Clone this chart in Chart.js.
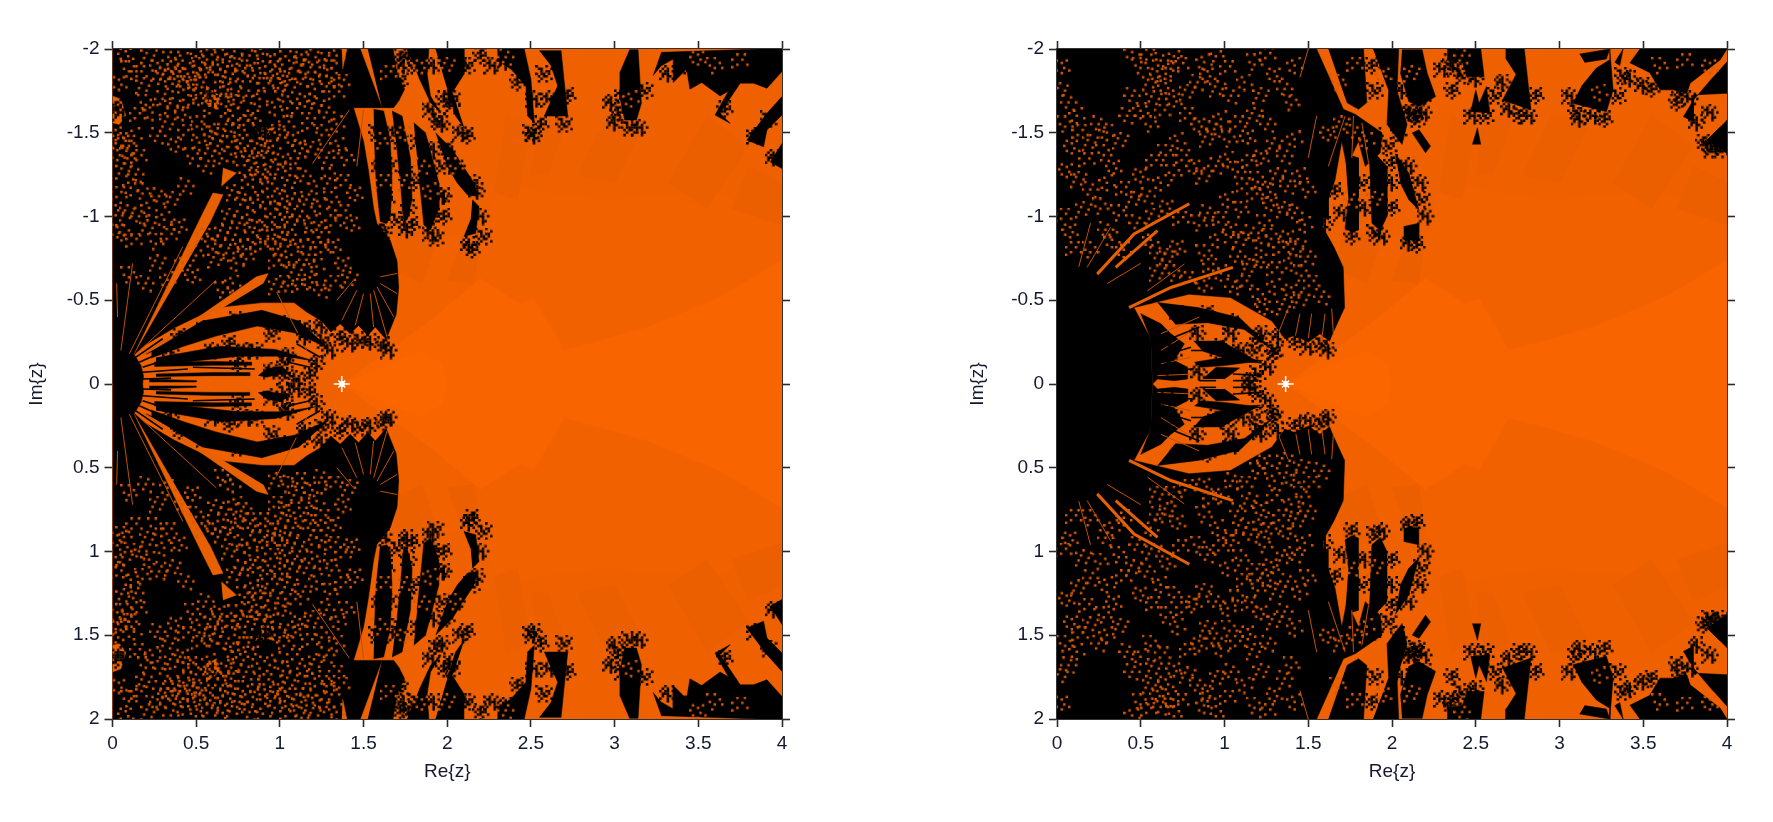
<!DOCTYPE html>
<html><head><meta charset="utf-8">
<style>html,body{margin:0;padding:0;background:#fff;width:1773px;height:822px;overflow:hidden}
#wa,#wb{position:absolute;top:0;height:822px}
#wa{left:0;width:830px}#wb{left:900px;width:873px}</style>
<script src="https://cdn.jsdelivr.net/npm/chart.js@4"></script></head>
<body><div id="wa"><canvas id="ca"></canvas></div><div id="wb"><canvas id="cb"></canvas></div>
<script>
const xTitle = 'Re{z}', yTitle = 'Im{z}';
const starLeft = [1.37, 0], starRight = [1.365, 0];

const toneBase = [[0,0],[0,2],[4,2],[4,0]];
const toneMid = [[1.37,0],[1.2,.3],[1.4,.55],[1.75,.95],[2.2,.85],[2.3,1.2],[2.9,1.1],[3.6,1.15],[4,1.0],[4,0]];
const toneBright = [[1.37,0],[1.65,.2],[1.9,.38],[2.2,.63],[2.43,.48],[2.52,.51],[2.7,.2],[3.2,.34],[3.63,.52],[4,.74],[4,0]];
const toneCore = [[1.37,0],[1.6,.1],[1.85,.2],[1.97,.12],[2.0,0]];
const toneBeams = [
 [[2.35,1.6],[2.5,1.55],[2.42,1.1],[2.28,1.15]],
 [[2.55,1.6],[2.72,1.58],[2.6,1.25],[2.5,1.25]],
 [[2.95,1.6],[3.18,1.56],[3.0,1.2],[2.78,1.25]],
 [[3.55,1.6],[3.8,1.42],[3.55,1.05],[3.32,1.2]],
 [[2.1,.9],[2.2,.88],[2.16,.6],[2.0,.62]],
 [[1.7,.95],[1.95,.9],[1.85,.6],[1.68,.68]],
 [[3.8,1.3],[4,1.2],[4,.95],[3.7,1.05]]
];

/* ---------- left panel ---------- */
const leftMass = [[0,2],[1.385,2],[1.48,2],[1.61,1.65],[1.44,1.65],[1.5,1.45],[1.53,1.27],[1.56,1.05],[1.58,.956],[1.66,.856],[1.70,.736],[1.71,.576],[1.695,.416],[1.635,.266],[1.57,.34],[1.525,.29],[1.47,.35],[1.42,.3],[1.36,.36],[1.305,.31],[1.25,.376],[1.16,.43],[1.085,.486],[.893,.486],[.618,.456],[.37,.336],[.2,.236],[.13,.175],[.17,.11],[.185,.05],[.18,0],[0,0]];
const leftRays = [
 [[1.525,2],[1.676,2],[1.70,1.85],[1.745,1.76],[1.71,1.69],[1.68,1.65],[1.61,1.65]],
 [[1.76,2],[1.89,2],[1.88,1.85],[1.90,1.72],[1.96,1.62],[1.9,1.68],[1.83,1.83]],
 [[1.93,2],[2.1,2],[2.1,1.85],[2.03,1.74],[2.1,1.53],[2.05,1.6],[2.0,1.76]],
 [[2.3,2],[2.46,2],[2.5,1.82],[2.52,1.56],[2.48,1.6],[2.47,1.78],[2.38,1.88],[2.3,1.93]],
 [[2.55,1.99],[2.68,1.99],[2.72,1.6],[2.58,1.6],[2.66,1.78],[2.62,1.9]],
 [[3.03,1.856],[3.09,1.996],[3.14,1.996],[3.16,1.676],[3.13,1.576],[3.06,1.576],[3.03,1.716]],
 [[3.23,1.84],[3.28,1.98],[3.87,2],[3.78,1.86],[3.7,1.76],[3.63,1.72],[3.52,1.8],[3.45,1.76],[3.43,1.88],[3.35,1.8],[3.35,1.94],[3.28,1.9]],
 [[3.87,2],[4,2],[4,1.866],[3.91,1.766],[3.83,1.796],[3.75,1.796],[3.63,1.616],[3.69,1.556],[3.6,1.606],[3.65,1.696],[3.72,1.816]],
 [[4,1.716],[3.91,1.616],[3.79,1.456],[3.89,1.416],[3.91,1.516],[4,1.606]],
 [[4,1.436],[3.93,1.326],[4,1.286]]
];
const leftDome = [
 [[1.56,1.64],[1.62,1.63],[1.66,1.45],[1.67,1.2],[1.66,1.0],[1.64,.96],[1.60,.97],[1.575,1.2],[1.565,1.45]],
 [[1.67,1.63],[1.73,1.6],[1.78,1.35],[1.79,1.1],[1.76,.98],[1.74,.97],[1.72,1.2],[1.70,1.4]],
 [[1.80,1.56],[1.87,1.5],[1.95,1.2],[1.95,1.05],[1.90,.92],[1.86,.95],[1.84,1.15],[1.82,1.35]],
 [[1.93,1.5],[2.03,1.4],[2.16,1.2],[2.18,1.12],[2.12,1.13],[2.06,1.2],[2.0,1.3]],
 [[2.15,1.1],[2.19,1.06],[2.17,.9],[2.1,.88],[2.14,.98]]
];
const leftFan = [
 [[.233,.196],[.536,.376],[.893,.44],[1.113,.376],[1.29,.216],[1.085,.306],[.865,.346],[.618,.286],[.426,.226],[.233,.156]],
 [[.26,.156],[.645,.226],[.975,.206],[1.21,.136],[1.03,.166],[.755,.166],[.48,.136],[.26,.116]],
 [[.25,.13],[.6,.135],[.83,.13],[.83,.112],[.6,.112],[.25,.105]],
 [[.87,.05],[.92,.09],[1.0,.105],[1.03,.09],[1.06,.06],[.98,.055],[.92,.04]],
 [[.26,.06],[.6,.068],[.82,.068],[.82,.05],[.6,.05],[.26,.045]],
 [[.22,.03],[.5,.02],[.5,.012],[.22,.012]]
];
const leftFanLines = [
 [[.18,.1],[.4,.17]],[[.18,.07],[.45,.09]],[[.18,.03],[.35,.035]],[[.16,.13],[.36,.22]],[[.14,.16],[.3,.27]],[[.2,.18],[.45,.3]],
 [[.48,.1],[.85,.09]],[[1.05,.13],[1.18,.1]],[[1.1,.24],[1.24,.16]],[[.62,.17],[1.0,.18]]
];
const leftOrangeWedges = [
 [[.13,.18],[.53,1.0],[.6,1.14],[.66,1.13],[.58,.96]],
 [[.17,.16],[.86,.64],[.93,.66],[.9,.6]],
 [[.0,1.72],[.05,1.7],[.08,1.6],[.04,1.55],[0,1.56]],
 [[.85,1.53],[.97,1.53],[.9,1.44]],
 [[.66,1.29],[.74,1.26],[.65,1.18]],
 [[.56,1.78],[.64,1.72],[.62,1.64],[.55,1.68]],
 [[1.37,2],[1.4,2],[1.375,1.88]]
];
const leftThinLines = [
 [[1.415,1.636],[1.195,1.316]],[[1.5,1.64],[1.46,1.3]],[[1.16,.2],[.98,.55]],
 [[.1,.18],[.42,.82]],[[.14,.18],[.62,.62]],[[.18,.17],[.65,.49]],[[.05,.2],[.12,.72]],[[.03,.4],[.025,.6]],
 [[1.56,.56],[1.64,.28]],[[1.54,.54],[1.56,.34]],[[1.5,.54],[1.45,.35]],[[1.46,.56],[1.37,.38]],[[1.58,.58],[1.68,.4]],[[1.6,.6],[1.7,.54]],[[1.6,.64],[1.7,.66]],[[1.44,.62],[1.34,.5]]
];
const leftOrangeSpecks = [[.08,1.97],[.22,1.96],[.35,1.98],[.42,1.93],[.5,1.97],[.58,1.95],[.66,1.98],[.73,1.94],[.82,1.96],[.9,1.97],[.97,1.92],[1.05,1.97],[1.13,1.95],[1.2,1.98],[1.28,1.93],[1.34,1.96],
[.1,1.88],[.16,1.85],[.27,1.9],[.33,1.86],[.38,1.88],[.45,1.85],[.52,1.9],[.57,1.86],[.63,1.89],[.69,1.85],[.76,1.9],[.84,1.87],[.88,1.84],[.96,1.88],[1.03,1.85],[1.1,1.9],[1.17,1.86],[1.24,1.89],[1.31,1.84],[1.37,1.8],
[.04,1.8],[.19,1.78],[.29,1.82],[.36,1.79],[.4,1.82],[.44,1.77],[.49,1.8],[.53,1.83],[.66,1.8],[.71,1.76],[.78,1.82],[.92,1.78],[.99,1.81],[1.06,1.77],[1.14,1.82],[1.21,1.76],[1.28,1.79],[1.34,1.73],
[.02,1.5],[.05,1.45],[.1,1.42],[.13,1.48],[.09,1.36],[.16,1.35],[.03,1.38],[.07,1.27],[.14,1.25],[.11,1.17],[.18,1.15],[.04,1.13],[.02,1.05],[.09,1.02],[.16,1.0],[.22,1.05],[.07,.9],[.13,.85],[.03,.92],[.21,.93],[.28,1.12],[.31,.98],[.26,.85],[.34,.88],[.4,.95],[.36,1.1],[.44,1.18],[.42,.72],[.5,.78],[.55,.88],[.48,.65],[.27,.72],[.2,.6],[.33,.62],[.1,.65],
[.52,1.55],[.58,1.52],[.63,1.48],[.68,1.55],[.72,1.6],[.76,1.5],[.8,1.56],[.84,1.6],[.88,1.42],[.92,1.38],[.96,1.42],[1.0,1.5],[1.04,1.55],[1.08,1.47],[.78,1.42],[.82,1.36],[.86,1.32],[.74,1.37],[.7,1.43],[.64,1.36],[.6,1.42],[.56,1.3],[.52,1.44],[.48,1.36],[.44,1.5],[.38,1.43],[.33,1.55],[.27,1.48],
[.97,1.65],[1.02,1.7],[1.09,1.63],[1.15,1.7],[1.22,1.66],[1.28,1.62],[1.34,1.55],[1.25,1.5],[1.18,1.54],[1.12,1.42],[1.2,1.4],[1.28,1.35],[1.35,1.42],[1.4,1.35],[1.08,1.3],[1.02,1.34],[.96,1.28],[.9,1.25],[.84,1.22],[.79,1.26],[.94,1.18],[1.0,1.12],[1.06,1.2],[1.14,1.24],[1.22,1.18],[1.3,1.24],[1.38,1.2],[1.45,1.14],[.73,1.14],[.78,1.1],[.84,1.08],[.9,1.1],[.96,1.03],[1.03,1.04],[1.09,1.09],[1.16,1.1],[1.24,1.06],[1.31,1.1],[1.38,1.02],[1.43,.96],[.7,1.0],[.76,.96],[.82,.98],[.88,.93],[.94,.95],[1.0,.92],[1.06,.95],[1.12,1.0],[1.19,.96],[1.25,.92],[1.32,.96],[.6,.85],[.66,.9],[.72,.86],[.78,.82],[.84,.86],[.9,.82],[.96,.85],[1.02,.82],[1.08,.86],[1.14,.82],[1.2,.86],[1.26,.8],[1.32,.83],[.62,.74],[.68,.78],[.74,.72],[.8,.76],[.98,.72],[1.04,.74],[1.1,.68],[1.16,.74],[1.22,.7],[1.05,.6],[1.12,.58],[1.18,.62],[.98,.58],[1.25,.56],[.72,.6],[.66,.56],[1.32,.6],[1.38,.72],[1.42,.62],
[.6,1.72],[.58,1.66],[.5,1.72],[.47,1.68],[.42,1.62],[.36,1.66],[.3,1.7],[.24,1.62],[.2,1.68],[.15,1.6],[.68,1.7],[.74,1.68],[.8,1.72],[.88,1.7],
[1.6,1.45],[1.62,1.2],[1.75,1.5],[1.76,1.2],[1.85,1.3],[1.9,1.15],[2.05,1.3],[1.65,1.85],[1.85,1.9],[2.0,1.9],[2.35,1.95],[3.1,1.7],[3.6,1.9],[3.75,1.92],[3.5,1.95]];
const leftBlackSpecks = [[.6,1.7],[.58,1.73],[.9,1.5],[.93,1.49],[.88,1.51],[.02,1.65],[.05,1.62],
[1.72,1.82],[1.74,1.9],[1.77,1.96],[1.9,1.64],[1.94,1.58],[1.97,1.55],[2.12,1.48],[2.08,1.5],[2.03,1.7],[2.08,1.9],[2.2,1.96],[2.27,1.9],[2.5,1.5],[2.52,1.48],[2.56,1.55],[2.61,1.7],[2.7,1.55],[3.0,1.56],[3.02,1.62],[3.15,1.53],[3.09,1.53],[2.98,1.68],
[1.6,.92],[1.62,.9],[1.65,1.3],[1.76,.92],[1.79,.95],[1.9,.9],[1.93,.87],[1.98,1.12],[1.98,1.0],[2.2,1.0],[2.22,.88],[2.13,.83],[2.15,.8],
[1.3,.2],[1.26,.26],[1.22,.12],[1.18,.05],[1.1,.03],[.95,.3],[1.15,.28],[.7,.24],[.8,.2],[1.03,.13],[1.25,.35],[1.36,.28],[1.42,.24],[1.48,.26],[1.54,.25],[1.62,.23],[1.65,.2],
[1.58,1.5],[1.6,1.3],[1.64,1.1],[1.69,1.5],[1.72,1.45],[1.76,1.25],[1.8,1.2],[1.83,1.45],[1.97,1.3],[1.92,1.4],[2.0,1.4],[2.06,1.3],[2.15,1.2],[2.18,1.15],[1.92,1.0],[1.96,1.12],[1.7,.98],[1.77,1.05],
[1.72,1.95],[1.7,1.78],[1.82,1.9],[1.92,1.9],[1.98,1.7],[2.03,1.66],[2.12,1.9],[2.35,1.92],[2.42,1.8],[2.52,1.7],[2.58,1.85],[2.66,1.68],[2.72,1.72],[3.05,1.72],[3.18,1.75],[3.32,1.85],[3.42,1.9],[3.55,1.88],[3.68,1.8],[3.8,1.85],[3.66,1.64],[3.84,1.48],[3.92,1.58],[3.95,1.35],
[.4,.28],[.55,.33],[.75,.38],[1.0,.36],[1.15,.33],[.6,.2],[.85,.2],[1.05,.17],[.75,.12],[.95,.08],[1.03,.05],[.35,.2]];

/* ---------- right panel ---------- */
const rightMass = [[0,2],[1.5,2],[1.55,2],[1.71,1.64],[1.78,1.61],[1.94,1.5],[1.93,1.38],[1.84,1.3],[1.80,1.45],[1.73,1.3],[1.70,1.45],[1.66,1.22],[1.60,1.05],[1.585,.94],[1.654,.816],[1.709,.696],[1.717,.456],[1.68,.376],[1.626,.256],[1.57,.3],[1.5,.25],[1.42,.29],[1.36,.27],[1.283,.376],[1.036,.516],[.788,.536],[.459,.456],[.56,.27],[.569,0],[0,0]];
const rightRays = [
 [[1.62,2],[1.83,2],[1.85,1.68],[1.8,1.64],[1.73,1.68]],
 [[1.887,2],[2.04,2],[2.03,1.75],[2.09,1.55],[2.06,1.43],[1.97,1.55],[1.98,1.75]],
 [[2.06,1.996],[2.18,1.996],[2.21,1.856],[2.26,1.716],[2.16,1.656],[2.10,1.686],[2.05,1.856]],
 [[2.12,1.5],[2.2,1.38],[2.23,1.42],[2.16,1.52]],
 [[2.33,2],[2.53,2],[2.55,1.836],[2.45,1.836],[2.42,1.916],[2.33,1.936]],
 [[2.47,1.626],[2.5,1.756],[2.52,1.676],[2.564,1.776],[2.584,1.616]],
 [[2.48,1.43],[2.51,1.53],[2.53,1.43]],
 [[2.68,1.94],[2.68,2],[2.79,2],[2.83,1.636],[2.66,1.696],[2.74,1.846]],
 [[3.13,1.776],[3.22,1.886],[3.3,1.936],[3.3,2],[3.32,1.756],[3.28,1.626],[3.08,1.676]],
 [[3.12,1.97],[3.3,2],[3.28,1.94],[3.15,1.92]],
 [[3.33,1.92],[3.38,2],[3.36,1.9]],
 [[3.42,1.916],[3.48,2],[4,2],[3.96,1.936],[3.78,1.796],[3.76,1.736],[3.68,1.756],[3.6,1.756],[3.54,1.856]],
 [[4.01,1.936],[4.01,1.736],[3.8,1.726],[3.8,1.566],[3.74,1.596],[3.8,1.696],[3.92,1.836]],
 [[4,1.576],[4,1.376],[3.88,1.456],[3.96,1.536]]
];
const rightDome = [
 [[1.56,1.3],[1.62,1.25],[1.62,.98],[1.58,1.0]],
 [[1.72,1.376],[1.8,1.35],[1.8,.92],[1.76,.906],[1.72,.93],[1.74,1.1]],
 [[1.86,1.416],[1.97,1.3],[1.97,1.0],[1.93,.916],[1.88,.96],[1.87,1.2]],
 [[2.02,1.376],[2.1,1.26],[2.16,1.04],[2.1,1.1],[2.05,1.2]],
 [[2.07,.94],[2.16,.96],[2.16,.856],[2.07,.86]]
];
const rightFan = [
 [[.6,.486],[.843,.456],[1.09,.396],[1.297,.196],[1.118,.326],[.898,.366],[.706,.356]],
 [[.816,.256],[.981,.256],[1.214,.126],[1.063,.136],[.871,.196]],
 [[.82,.13],[1.0,.16],[1.23,.14],[1.0,.11],[.86,.1]],
 [[.87,.03],[.95,.1],[1.09,.096],[1.0,.03]],
 [[.57,0],[.6,.03],[.7,.02],[.78,.03],[.78,.1],[.7,.14],[.76,.24],[.68,.3],[.62,.36],[.5,.42],[.56,.27]]
];
const rightFanLines = [
 [[.6,.08],[.82,.09]],[[.6,.16],[.8,.22]],[[.65,.26],[.85,.34]],[[.7,.4],[.95,.43]],[[.8,.2],[1.05,.2]],[[1.05,.06],[1.22,.05]],[[1.05,.02],[1.2,.02]],[[.85,.02],[.95,.02]]
];
const rightOrangeCurves = [
 [[.43,.456],[.68,.576],[1.05,.696]],
 [[.24,.656],[.46,.896],[.79,1.076]],
 [[.35,.696],[.6,.916]]
];
const rightThinLines = [
 [[.54,.556],[.76,.716]],[[.18,.696],[.32,.936]],[[.13,.7],[.2,.96]],[[.3,.6],[.5,.72]],
 [[.6,.05],[.82,.06]],[[.62,.12],[.8,.16]],[[.62,.2],[.78,.3]],[[.62,.3],[.85,.4]],
 [[1.32,.3],[1.38,.45]],[[1.42,.27],[1.45,.42]],[[1.5,.27],[1.52,.42]],[[1.58,.26],[1.6,.42]],[[1.65,.3],[1.64,.45]],
 [[1.72,1.6],[1.62,1.3]],[[1.77,1.6],[1.76,1.35]],[[1.82,1.56],[1.86,1.32]],[[1.55,1.6],[1.5,1.35]],[[1.5,2],[1.45,1.83]]
];
const rightOrangeSpecks = [[.03,1.9],[.02,1.75],[.07,1.68],[.12,1.6],[.05,1.55],[.14,1.5],[.09,1.42],[.2,1.44],[.25,1.55],[.3,1.5],[.28,1.38],[.18,1.33],[.06,1.28],[.13,1.22],[.2,1.16],[.3,1.2],[.26,1.06],[.04,1.0],[.08,.92],[.16,1.04],[.29,.92],[.33,.86],[.37,1.02],[.4,1.16],[.34,1.3],[.38,1.45],[.42,1.6],
[.45,1.98],[.5,1.9],[.55,1.95],[.6,1.85],[.56,1.8],[.62,1.93],[.68,1.88],[.7,1.97],[.74,1.9],[.65,1.78],[.58,1.7],[.45,1.72],[.5,1.63],[.56,1.55],[.63,1.62],[.7,1.7],[.78,1.74],[.84,1.8],[.88,1.92],[.95,1.97],[1.02,1.88],[.9,1.85],[.96,1.76],[1.04,1.72],[1.12,1.8],[1.18,1.92],[1.26,1.96],[1.3,1.85],[1.22,1.72],[1.36,1.76],[1.42,1.9],[1.4,1.68],
[.78,1.6],[.85,1.55],[.9,1.46],[.94,1.52],[.98,1.58],[1.03,1.46],[1.08,1.55],[1.14,1.48],[1.18,1.6],[1.26,1.55],[.72,1.45],[.65,1.38],[.58,1.32],[.5,1.25],[.46,1.1],[.54,1.12],[.62,1.2],[.7,1.26],[.76,1.35],[.82,1.3],[.88,1.24],[.95,1.3],[1.02,1.34],[1.08,1.28],[1.15,1.32],[1.22,1.36],[1.3,1.42],[1.36,1.36],[1.42,1.46],[1.2,1.22],[1.12,1.18],[1.26,1.16],[1.32,1.24],[1.38,1.18],[1.45,1.24],[1.5,1.16],[1.18,1.12],[1.28,1.08],[1.36,1.04],[1.42,1.02],[1.48,.95],[1.24,.96],
[.98,.98],[1.04,.92],[1.1,.86],[1.16,.9],[1.22,.84],[1.28,.88],[1.34,.8],[1.38,.88],[1.44,.82],[1.5,.76],[1.4,.72],[1.46,.66],[1.3,.68],[1.22,.74],[1.15,.7],[1.08,.76],[.96,.86],[.88,.78],[.92,.7],[.72,.82],[.66,.76],[.6,.78],[.56,.86],[.7,.66],[.78,.62],[.88,.6],[.6,.66],[.9,1.02],[1.02,1.1],[1.1,1.04],
[1.52,.6],[1.4,.56],[1.46,.5],[1.58,.52],[1.3,.58],[1.2,.52],[1.12,.6],[1.24,.46],[1.36,.46],[1.05,.58],[.98,.66],[.85,.96],[.74,.98],[.66,1.06],[.58,1.0],[.48,.96],[.4,.8],[.2,.8],[.1,.8],
[1.62,1.5],[1.7,1.55],[1.78,1.5],[1.85,1.45],[1.68,1.8],[1.78,1.9],[1.95,1.85],[2.12,1.85],[2.42,1.96],[3.24,1.74],[3.6,1.9],[3.75,1.92],[3.9,1.9],[1.9,1.1],[1.76,1.1]];
const rightBlackSpecks = [[2.1,1.62],[2.14,1.6],[2.19,1.62],[2.15,1.58],[2.2,1.72],[2.35,1.92],[2.38,1.88],[2.42,1.84],[2.5,1.82],[2.36,1.75],[2.48,1.6],[2.56,1.6],[2.7,1.64],[2.76,1.6],[2.82,1.6],[3.1,1.63],[3.12,1.58],[3.27,1.58],[3.2,1.6],[3.38,1.84],[3.5,1.78],[3.55,1.76],[3.78,1.7],[3.72,1.74],[3.82,1.56],[3.86,1.44],[3.92,1.42],[3.96,1.4],
[1.6,.95],[1.76,.88],[1.94,.88],[1.9,.9],[2.0,1.2],[2.0,1.05],[2.17,1.2],[2.18,1.1],[2.1,.84],[2.15,.83],[2.2,1.0],
[1.3,.2],[1.22,.3],[1.29,.18],[1.26,.1],[1.2,.06],[1.15,.02],[.98,.22],[1.04,.3],[1.18,.2],[1.32,.28],[1.42,.25],[1.5,.22],[1.58,.24],[1.62,.2],
[1.66,1.15],[1.7,1.02],[1.82,1.2],[1.84,1.05],[2.0,1.32],[2.1,1.3],[1.98,1.42],[1.9,1.48],[2.04,1.5],[2.12,1.62],[1.9,1.75],[2.06,1.75],[1.88,1.9],[2.3,1.88],[2.62,1.72],[2.66,1.8],[2.86,1.72],[3.06,1.72],[3.35,1.72],[3.42,1.82],[3.7,1.68],[3.9,1.62],[3.9,1.4],
[.72,.42],[.9,.42],[1.05,.37],[1.2,.27],[.84,.3],[.95,.2],[1.1,.2],[.7,.2],[.85,.07],[.66,.1]];

/* ---------- drawing ---------- */
const ink = '#15192e', orange = '#E86000';
function glyph(rows, color) {
  const cell = 2.5, c = document.createElement('canvas');
  c.width = Math.ceil(rows[0].length * cell); c.height = Math.ceil(rows.length * cell);
  const g = c.getContext('2d'); g.fillStyle = color;
  rows.forEach((r, j) => [...r].forEach((ch, i) => { if (ch === '#') g.fillRect(i * cell, j * cell, cell, cell); }));
  return c;
}
const orangeGlyphRows = [
 ['.......','.#...#.','...#...','#......','....#..','.#....#','...#...'],
 ['...#...','#.....#','..#....','.....#.','.#.....','....#..','#......'],
 ['.#.....','....#..','.......','#..#..#','.......','..#....','.....#.'],
 ['.....#.','..#....','#......','...#...','......#','.#.....','...#...'],
 ['#..#...','.......','.....#.','.#.....','...#..#','.......','..#....'],
 ['..#..#.','.......','#...#..','.......','..#...#','#......','.......']
];
const blackGlyphRows = [
 ['..#..#.','.#.#...','#.##.#.','.###..#','.#.##..','#..#.#.','...#...'],
 ['.#...#.','...##..','#.##.#.','.#.###.','..##..#','.#..#..','...#...'],
 ['...#...','#.#..#.','.##.#..','#.###.#','..#.#..','.#..##.','#...#..'],
 ['#...#..','.##...#','..#.##.','#.##.#.','.#.##..','..#...#','.#..#..']
];
const orangeGlyphs = orangeGlyphRows.map(r => glyph(r, '#D85800'));
const blackGlyphs = blackGlyphRows.map(r => glyph(r, '#000'));

const pts = (list, s) => list.map(p => ({x: p[0], y: s * p[1]}));
const poly = (list, s, color, order) => ({data: pts(list, s), showLine: true, fill: 'shape', backgroundColor: color, borderColor: color, borderWidth: .5, pointRadius: 0, order});
const stroke = (list, s, color, w, order) => ({data: pts(list, s), showLine: true, fill: false, borderColor: color, borderWidth: w, pointRadius: 0, order});
const dots = (list, s, glyphs, order) => ({data: pts(list, s), showLine: false, pointStyle: c => glyphs[c.dataIndex % glyphs.length], pointRadius: 7, order});

function panelData(mass, rays, dome, fan, fanLines, wedges, curves, thin, oSpecks, bSpecks, star) {
  const out = [];
  [-1, 1].forEach(s => {
    out.push(poly(toneBase, s, '#EE6000', 95), poly(toneMid, s, '#F26100', 90), poly(toneBright, s, '#F86400', 88), poly(toneCore, s, '#FB6600', 87));
    toneBeams.forEach(b => out.push(poly(b, s, '#EC5F00', 89)));
    out.push(poly(mass, s, '#000', 60));
    rays.concat(dome, fan).forEach(r => out.push(poly(r, s, '#000', 60)));
    fanLines.forEach(c => out.push(stroke(c, s, '#000', 1.6, 58)));
    wedges.forEach(w => out.push(poly(w, s, orange, 50)));
    curves.forEach(c => out.push(stroke(c, s, orange, 3, 50)));
    thin.forEach(c => out.push(stroke(c, s, '#C45000', 1, 50)));
    out.push(dots(bSpecks, s, blackGlyphs, 42));
    out.push(dots(oSpecks, s, orangeGlyphs, 40));
  });
  out.push({data: pts([star], 1), showLine: false, pointStyle: 'cross', pointRadius: 8, pointBorderWidth: 1.5, pointBorderColor: '#fff', order: 2});
  out.push({data: pts([star], 1), showLine: false, pointStyle: 'crossRot', pointRadius: 5, pointBorderWidth: 1.5, pointBorderColor: '#fff', order: 2});
  out.push({data: pts([star], 1), showLine: false, pointStyle: 'circle', pointRadius: 3, pointBorderWidth: 0, pointBackgroundColor: '#fff', order: 1});
  return out;
}

function panel(id, data, leftW, rightW, yTitlePad) {
  const fit = (prop, v) => sc => { sc[prop] = v; };
  const gridOpt = {drawOnChartArea: false, tickLength: 8, tickColor: '#2a2a2a', tickWidth: 1.6};
  const borderOpt = {color: '#333', width: 2};
  const tickFont = {family: '"Liberation Sans", Arial, sans-serif', size: 19};
  const plain = v => String(v);
  const xBase = {type: 'linear', min: 0, max: 4, grid: gridOpt, border: borderOpt};
  const yBase = {type: 'linear', min: -2, max: 2, reverse: true, grid: gridOpt, border: borderOpt};
  new Chart(document.getElementById(id), {
    type: 'scatter',
    data: {datasets: data},
    options: {
      responsive: true, maintainAspectRatio: false, animation: false,
      plugins: {legend: {display: false}, tooltip: {enabled: false}},
      events: [],
      layout: {padding: 0},
      scales: {
        x: {...xBase, position: 'bottom', afterFit: fit('height', 103),
            ticks: {stepSize: .5, color: ink, font: tickFont, maxRotation: 0, padding: 5, callback: plain},
            title: {display: true, text: xTitle, color: ink, font: tickFont, padding: {top: 0, bottom: 39}}},
        xt: {...xBase, position: 'top', afterFit: fit('height', 49), ticks: {stepSize: .5, display: false}},
        y: {...yBase, position: 'left', afterFit: fit('width', leftW),
            ticks: {stepSize: .5, color: ink, font: tickFont, padding: 5, callback: plain},
            title: {display: true, text: yTitle, color: ink, font: tickFont, padding: {top: yTitlePad, bottom: 0}}},
        yr: {...yBase, position: 'right', afterFit: fit('width', rightW), ticks: {stepSize: .5, display: false}}
      }
    }
  });
}

panel('ca', panelData(leftMass, leftRays, leftDome, leftFan, leftFanLines, leftOrangeWedges, [], leftThinLines, leftOrangeSpecks, leftBlackSpecks, starLeft), 112.5, 48, 25);
panel('cb', panelData(rightMass, rightRays, rightDome, rightFan, rightFanLines, [], rightOrangeCurves, rightThinLines, rightOrangeSpecks, rightBlackSpecks, starRight), 157, 46, 66);
</script></body></html>
